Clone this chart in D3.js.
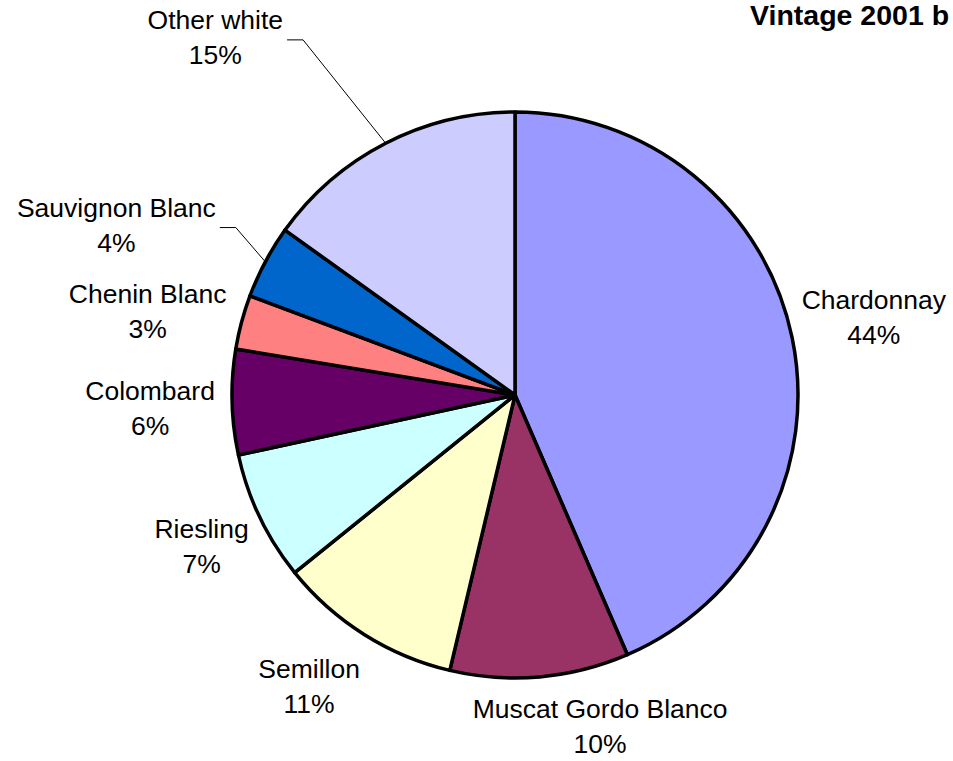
<!DOCTYPE html>
<html>
<head>
<meta charset="utf-8">
<script src="https://cdn.jsdelivr.net/npm/d3@7/dist/d3.min.js"></script>
<style>
  html, body { margin: 0; padding: 0; background: #fff; }
  svg { display: block; font-family: 'Liberation Sans', Arial, sans-serif; }
</style>
</head>
<body>
<div id="chart"></div>
<script>
// Share of white grape crush by variety, clockwise from 12 o'clock
const varieties = ['Chardonnay', 'Muscat Gordo Blanco', 'Semillon', 'Riesling',
  'Colombard', 'Chenin Blanc', 'Sauvignon Blanc', 'Other white'];
const shares = [43.5, 10.2, 10.5, 7.4, 6.0, 3.1, 4.2, 15.1];
const colours = ['#9999FF', '#993366', '#FFFFCC', '#CCFFFF',
  '#660066', '#FF8080', '#0066CC', '#CCCCFF'];
// label nudges from the arc centroid (Excel-style placement)
const labelShift = [[23, -16], [55, -19], [-23, -7], [-4, -5],
  [-22, -4], [-36, -4], [-96, -17], [-143, -61]];
const withLeader = [false, false, false, false, false, false, true, true];
const title = 'Vintage 2001 b';

(function () {
  'use strict';
  const W = 953, H = 761;
  const cx = 515, cy = 395, R = 283;
  const lineGap = 35;

  const svg = d3.select('#chart').append('svg').attr('width', W).attr('height', H);

  svg.append('text').attr('x', 750).attr('y', 25)
    .style('font-size', '28.5px').style('font-weight', 'bold').attr('fill', '#000')
    .text(title);

  const pie = d3.pie().sort(null).value(d => d)(shares);
  const arc = d3.arc().innerRadius(0).outerRadius(R);
  const labelArc = d3.arc().innerRadius(R + 60).outerRadius(R + 60);
  const edgeArc = d3.arc().innerRadius(R).outerRadius(R);

  const g = svg.append('g').attr('transform', `translate(${cx},${cy})`);
  g.selectAll('path.slice').data(pie).enter().append('path')
    .attr('class', 'slice')
    .attr('d', arc)
    .attr('fill', (d, i) => colours[i])
    .attr('stroke', '#000').attr('stroke-width', 3.5).attr('stroke-linejoin', 'round');

  const fmt = v => Math.round(v) + '%';

  pie.forEach((d, i) => {
    const c = labelArc.centroid(d);
    const x = c[0] + labelShift[i][0];
    const y = c[1] + labelShift[i][1];
    const t = g.append('text').attr('text-anchor', 'middle')
      .style('font-size', '26.5px').attr('fill', '#000');
    t.append('tspan').attr('x', x).attr('y', y).text(varieties[i]);
    t.append('tspan').attr('x', x).attr('y', y + lineGap).text(fmt(d.value));

    if (withLeader[i]) {
      const w = t.select('tspan').node().getComputedTextLength();
      const x0 = x + w / 2 + 4, ly = y + 11;
      const e = edgeArc.centroid(d);
      g.append('polyline')
        .attr('points', [[x0, ly], [x0 + 16, ly], e].map(p => p.join(',')).join(' '))
        .attr('fill', 'none').attr('stroke', '#000').attr('stroke-width', 1);
    }
  });
})();
</script>
</body>
</html>
